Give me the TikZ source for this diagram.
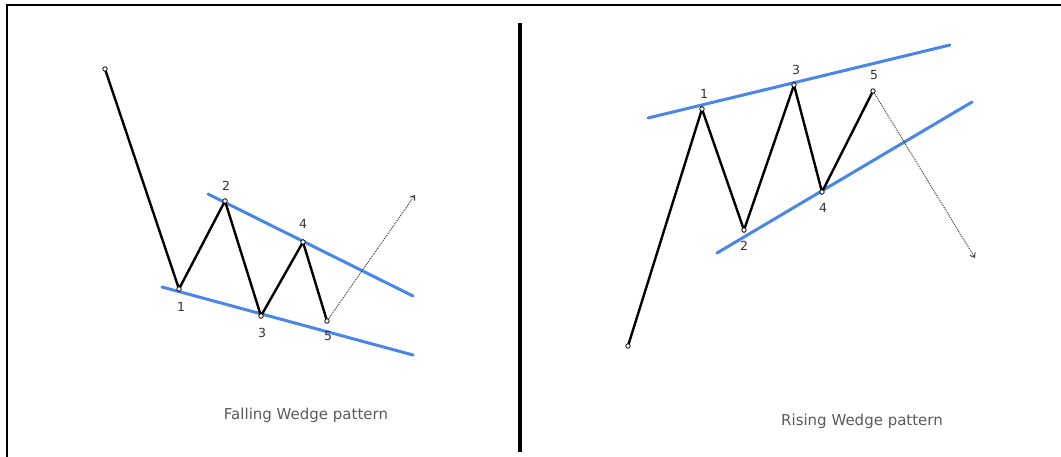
\documentclass[tikz,border=0pt]{standalone}
\usepackage{fontspec}
\setmainfont{DejaVu Sans}
\usetikzlibrary{arrows.meta}
\definecolor{wblue}{RGB}{74,134,232}
\definecolor{captiongray}{RGB}{90,90,90}
\tikzset{
  wave/.style={line width=2.4pt,black,line join=miter},
  trend/.style={line width=3pt,wblue,line cap=round},
  proj/.style={line width=1pt,black!75,densely dotted,-{Straight Barb[length=4pt,width=6pt]}},
  vtx/.style={circle,draw=black,fill=white,inner sep=0pt,minimum size=4.5pt,line width=0.8pt},
  num/.style={font=\fontsize{12.5}{14}\selectfont,text=black!80,inner sep=1pt},
  caption/.style={font=\fontsize{15}{17}\selectfont,text=captiongray}
}
\begin{document}
\begin{tikzpicture}[x=1pt,y=-1pt]
\useasboundingbox (0,0) rectangle (1061,457);
% frame
\draw[line width=2pt] (7,457) -- (7,5) -- (1061,5);
\draw[line width=4pt] (520,23) -- (520,452);

% ---------- Falling wedge ----------
\coordinate (L0) at (105,69);
\coordinate (L1) at (179,289);
\coordinate (L2) at (225,201);
\coordinate (L3) at (261,316);
\coordinate (L4) at (303,242);
\coordinate (L5) at (327,321);
\coordinate (LE) at (415,195);
\coordinate (LUa) at (208,194);
\coordinate (LUb) at (413,296);
\coordinate (LLa) at (162,287);
\coordinate (LLb) at (413,355);
\draw[trend] (LUa) -- (LUb);
\draw[trend] (LLa) -- (LLb);
\draw[wave] (L0) -- (L1) -- (L2) -- (L3) -- (L4) -- (L5);
\draw[proj] (L5) -- (LE);
\foreach \p in {L0,L1,L2,L3,L4,L5} \node[vtx] at (\p) {};
\node[num] (l1) at (181,307) {1};
\node[num] (l2) at (226,186) {2};
\node[num] (l3) at (262,333) {3};
\node[num] (l4) at (303,224) {4};
\node[num] (l5) at (328,336) {5};
\node[caption] (capL) at (306,415) {Falling Wedge pattern};

% ---------- Rising wedge ----------
\coordinate (R0) at (628,346);
\coordinate (R1) at (702,109);
\coordinate (R2) at (744,230);
\coordinate (R3) at (794,85);
\coordinate (R4) at (822,192);
\coordinate (R5) at (873,91);
\coordinate (RE) at (975,258);
\coordinate (RUa) at (648,118);
\coordinate (RUb) at (950,45);
\coordinate (RLa) at (717,253);
\coordinate (RLb) at (972,102);
\draw[trend] (RUa) -- (RUb);
\draw[trend] (RLa) -- (RLb);
\draw[wave] (R0) -- (R1) -- (R2) -- (R3) -- (R4) -- (R5);
\draw[proj] (R5) -- (RE);
\foreach \p in {R0,R1,R2,R3,R4,R5} \node[vtx] at (\p) {};
\node[num] (r1) at (704,94) {1};
\node[num] (r2) at (744,246) {2};
\node[num] (r3) at (796,70) {3};
\node[num] (r4) at (823,208) {4};
\node[num] (r5) at (874,75) {5};
\node[caption] (capR) at (862,421) {Rising Wedge pattern};
\end{tikzpicture}
\end{document}
